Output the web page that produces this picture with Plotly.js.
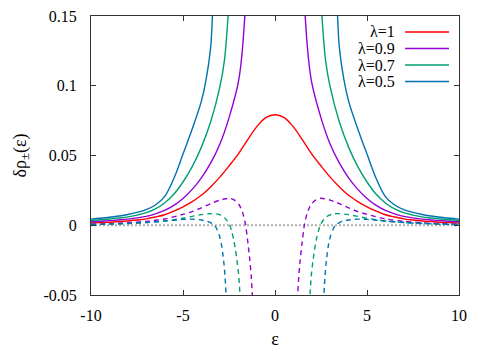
<!DOCTYPE html>
<html>
<head>
<meta charset="utf-8">
<script src="https://cdn.plot.ly/plotly-3.0.1.min.js"></script>
<style>
html,body{margin:0;padding:0;background:#fff;}
#chart{width:498px;height:349px;}
</style>
</head>
<body>
<div id="chart"></div>
<script>
// ---- data ----
const legendLabels = ["λ=1", "λ=0.9", "λ=0.7", "λ=0.5"];
const xTickVals = [-10, -5, 0, 5, 10];
const yTickVals = [-0.05, 0, 0.05, 0.1, 0.15];
const yTickText = ["-0.05", "0", "0.05", "0.1", "0.15"];

// λ=1 solid (red)
const redX = [-10,-9.5,-9,-8.5,-8,-7.5,-7,-6.5,-6,-5.5,-5,-4.5,-4,-3.5,-3,-2.5,-2,-1.5,-1,-0.5,0,0.5,1,1.5,2,2.5,3,3.5,4,4.5,5,5.5,6,6.5,7,7.5,8,8.5,9,9.5,10];
const redY = [0.0016,0.0019,0.0022,0.0026,0.0031,0.0038,0.0046,0.0059,0.0075,0.0101,0.0132,0.017,0.0215,0.0275,0.0345,0.0425,0.051,0.061,0.0705,0.0772,0.0792,0.0772,0.0705,0.061,0.051,0.0425,0.0345,0.0275,0.0215,0.017,0.0132,0.0101,0.0075,0.0059,0.0046,0.0038,0.0031,0.0026,0.0022,0.0019,0.0016];

// λ=0.9 solid (purple)
const purpleLX = [-10,-9.5,-9,-8.5,-8,-7.5,-7,-6.5,-6,-5.5,-5,-4.5,-4,-3.5,-3,-2.5,-2,-1.8,-1.64,-1.5,-1.35];
const purpleLY = [0.0025,0.0029,0.0033,0.0038,0.0044,0.0053,0.0064,0.0082,0.0106,0.0142,0.0192,0.0257,0.034,0.0445,0.058,0.077,0.102,0.122,0.15,0.185,0.24];
const purpleRX = [1.35,1.5,1.64,1.8,2,2.5,3,3.5,4,4.5,5,5.5,6,6.5,7,7.5,8,8.5,9,9.5,10];
const purpleRY = [0.24,0.185,0.15,0.122,0.102,0.077,0.058,0.0445,0.034,0.0257,0.0192,0.0142,0.0106,0.0082,0.0064,0.0053,0.0044,0.0038,0.0033,0.0029,0.0025];

// λ=0.7 solid (green)
const greenLX = [-10,-9.5,-9,-8.5,-8,-7.5,-7,-6.5,-6,-5.5,-5,-4.5,-4,-3.5,-3,-2.75,-2.55,-2.4,-2.25];
const greenLY = [0.0034,0.0039,0.0045,0.0052,0.006,0.0073,0.009,0.0118,0.016,0.0222,0.031,0.042,0.056,0.074,0.099,0.118,0.15,0.18,0.23];
const greenRX = [2.25,2.4,2.55,2.75,3,3.5,4,4.5,5,5.5,6,6.5,7,7.5,8,8.5,9,9.5,10];
const greenRY = [0.23,0.18,0.15,0.118,0.099,0.074,0.056,0.042,0.031,0.0222,0.016,0.0118,0.009,0.0073,0.006,0.0052,0.0045,0.0039,0.0034];

// λ=0.5 solid (blue)
const blueLX = [-10,-9.5,-9,-8.5,-8,-7.5,-7,-6.5,-6,-5.5,-5,-4.5,-4,-3.75,-3.5,-3.4,-3.3,-3.2];
const blueLY = [0.0044,0.005,0.0057,0.0066,0.0077,0.0092,0.0112,0.0145,0.0205,0.0335,0.051,0.069,0.089,0.104,0.127,0.15,0.18,0.225];
const blueRX = [3.2,3.3,3.4,3.5,3.75,4,4.5,5,5.5,6,6.5,7,7.5,8,8.5,9,9.5,10];
const blueRY = [0.225,0.18,0.15,0.127,0.104,0.089,0.069,0.051,0.0335,0.0205,0.0145,0.0112,0.0092,0.0077,0.0066,0.0057,0.005,0.0044];

// λ=0.9 dashed (purple)
const purpleDashLX = [-10,-9,-8,-7,-6,-5,-4.5,-4,-3.5,-3,-2.7,-2.45,-2.2,-1.95,-1.75,-1.6,-1.47,-1.37,-1.29,-1.24,-1.2];
const purpleDashLY = [0.0008,0.0012,0.0018,0.0028,0.0045,0.0078,0.0098,0.0125,0.0155,0.018,0.019,0.0193,0.018,0.0147,0.0087,0.0004,-0.0128,-0.0247,-0.037,-0.048,-0.06];
const purpleDashRX = [1.2,1.24,1.29,1.37,1.47,1.6,1.75,1.95,2.2,2.45,2.7,3,3.5,4,4.5,5,6,7,8,9,10];
const purpleDashRY = [-0.06,-0.048,-0.037,-0.0247,-0.0128,0.0004,0.0087,0.0147,0.018,0.0193,0.019,0.018,0.0155,0.0125,0.0098,0.0078,0.0045,0.0028,0.0018,0.0012,0.0008];

// λ=0.7 dashed (green)
const greenDashLX = [-10,-9,-8,-7,-6,-5,-4.5,-4,-3.5,-3.2,-2.95,-2.75,-2.6,-2.47,-2.35,-2.25,-2.15,-2.06,-1.98,-1.93,-1.88];
const greenDashLY = [0.0005,0.0008,0.0012,0.0019,0.003,0.005,0.0064,0.0076,0.0083,0.0082,0.0072,0.0054,0.0032,0.0004,-0.0045,-0.01,-0.0175,-0.026,-0.035,-0.044,-0.056];
const greenDashRX = [1.88,1.93,1.98,2.06,2.15,2.25,2.35,2.47,2.6,2.75,2.95,3.2,3.5,4,4.5,5,6,7,8,9,10];
const greenDashRY = [-0.056,-0.044,-0.035,-0.026,-0.0175,-0.01,-0.0045,0.0004,0.0032,0.0054,0.0072,0.0082,0.0083,0.0076,0.0064,0.005,0.003,0.0019,0.0012,0.0008,0.0005];

// λ=0.5 dashed (blue)
const blueDashLX = [-10,-9,-8,-7,-6,-5.5,-5,-4.5,-4,-3.7,-3.5,-3.3,-3.15,-3.02,-2.92,-2.84,-2.77,-2.72,-2.68,-2.64];
const blueDashLY = [0.0005,0.0008,0.0013,0.002,0.003,0.0036,0.0042,0.0044,0.0038,0.003,0.0018,0.0004,-0.003,-0.0075,-0.013,-0.02,-0.028,-0.036,-0.044,-0.055];
const blueDashRX = [2.64,2.68,2.72,2.77,2.84,2.92,3.02,3.15,3.3,3.5,3.7,4,4.5,5,5.5,6,7,8,9,10];
const blueDashRY = [-0.055,-0.044,-0.036,-0.028,-0.02,-0.013,-0.0075,-0.003,0.0004,0.0018,0.003,0.0038,0.0044,0.0042,0.0036,0.003,0.002,0.0013,0.0008,0.0005];

// zero reference line
const zeroX = [-10, 10];
const zeroY = [0, 0];

// ---- styling ----
const colors = ["#ff0000", "#9400d3", "#009e73", "#0072b2"];
const FONT = "Liberation Serif";

function joinXY(ax, ay, bx, by) {
  return {x: ax.concat([null], bx), y: ay.concat([null], by)};
}
function solid(xy, color) {
  return {x: xy.x, y: xy.y, type: "scatter", mode: "lines", connectgaps: false,
    line: {color: color, width: 1.4, shape: "spline", smoothing: 1}, hoverinfo: "skip", showlegend: false};
}
function dashed(xy, color) {
  return {x: xy.x, y: xy.y, type: "scatter", mode: "lines", connectgaps: false,
    line: {color: color, width: 1.4, dash: "5px,4px", shape: "spline", smoothing: 0.6}, hoverinfo: "skip", showlegend: false};
}

function buildTraces() {
  return [
    {x: zeroX, y: zeroY, type: "scatter", mode: "lines", line: {color: "#b0b0b0", width: 2, dash: "2px,2px"}, hoverinfo: "skip", showlegend: false},
    solid({x: redX, y: redY}, colors[0]),
    solid(joinXY(purpleLX, purpleLY, purpleRX, purpleRY), colors[1]),
    solid(joinXY(greenLX, greenLY, greenRX, greenRY), colors[2]),
    solid(joinXY(blueLX, blueLY, blueRX, blueRY), colors[3]),
    dashed(joinXY(purpleDashLX, purpleDashLY, purpleDashRX, purpleDashRY), colors[1]),
    dashed(joinXY(greenDashLX, greenDashLY, greenDashRX, greenDashRY), colors[2]),
    dashed(joinXY(blueDashLX, blueDashLY, blueDashRX, blueDashRY), colors[3])
  ];
}

// custom gnuplot-style key (text right-aligned, sample line to the right)
const plotL = 91, plotR = 459.5, plotT = 16, plotB = 295;
const pw = plotR - plotL, ph = plotB - plotT;
const keyRows = [32, 48.5, 65, 81.5];

function buildLayout() {
  const annotations = [];
  const shapes = [];
  legendLabels.forEach((lab, i) => {
    const yp = 1 - (keyRows[i] - plotT) / ph;
    annotations.push({xref: "paper", yref: "paper", x: (396 - plotL) / pw, y: yp, text: lab,
      showarrow: false, xanchor: "right", yanchor: "middle", borderpad: 0,
      font: {family: FONT, size: 16}});
    shapes.push({type: "line", xref: "paper", yref: "paper", x0: (405.5 - plotL) / pw, x1: (449.5 - plotL) / pw,
      y0: yp, y1: yp, line: {color: colors[i], width: 1.4}});
  });
  const axisCommon = () => ({
    showgrid: false, zeroline: false, showline: true, linecolor: "#333", linewidth: 1,
    mirror: "allticks", ticks: "inside", ticklen: 5, tickcolor: "#333", tickwidth: 1,
    tickfont: {family: FONT, size: 16, color: "#000"}
  });
  return {
    width: 498, height: 349,
    font: {family: FONT, size: 16, color: "#000"},
    margin: {l: plotL, r: 498 - plotR, t: plotT, b: 349 - plotB, pad: 0},
    paper_bgcolor: "#fff", plot_bgcolor: "#fff",
    showlegend: false,
    xaxis: Object.assign(axisCommon(), {
      range: [-10, 10], tickvals: xTickVals, ticktext: xTickVals.map(String),
      ticklabelstandoff: 6,
      title: {text: "ε", font: {family: FONT, size: 18, color: "#000"}, standoff: 12}
    }),
    yaxis: Object.assign(axisCommon(), {
      range: [-0.05, 0.15], tickvals: yTickVals, ticktext: yTickText,
      ticklabelstandoff: 10,
      title: {text: "δρ<sub>±</sub>(ε)", font: {family: FONT, size: 18, color: "#000"}, standoff: 12}
    }),
    annotations: annotations,
    shapes: shapes
  };
}

const cfg = {displayModeBar: false, staticPlot: true};
Plotly.newPlot("chart", buildTraces(), buildLayout(), cfg);
// redraw once the serif face is ready so every label uses it
if (document.fonts && document.fonts.load) {
  document.fonts.load('16px "Liberation Serif"', "0.15 λ=0.9 ε δρ±").then(function () {
    Plotly.newPlot("chart", buildTraces(), buildLayout(), cfg);
  }).catch(function () {});
}
</script>
</body>
</html>
